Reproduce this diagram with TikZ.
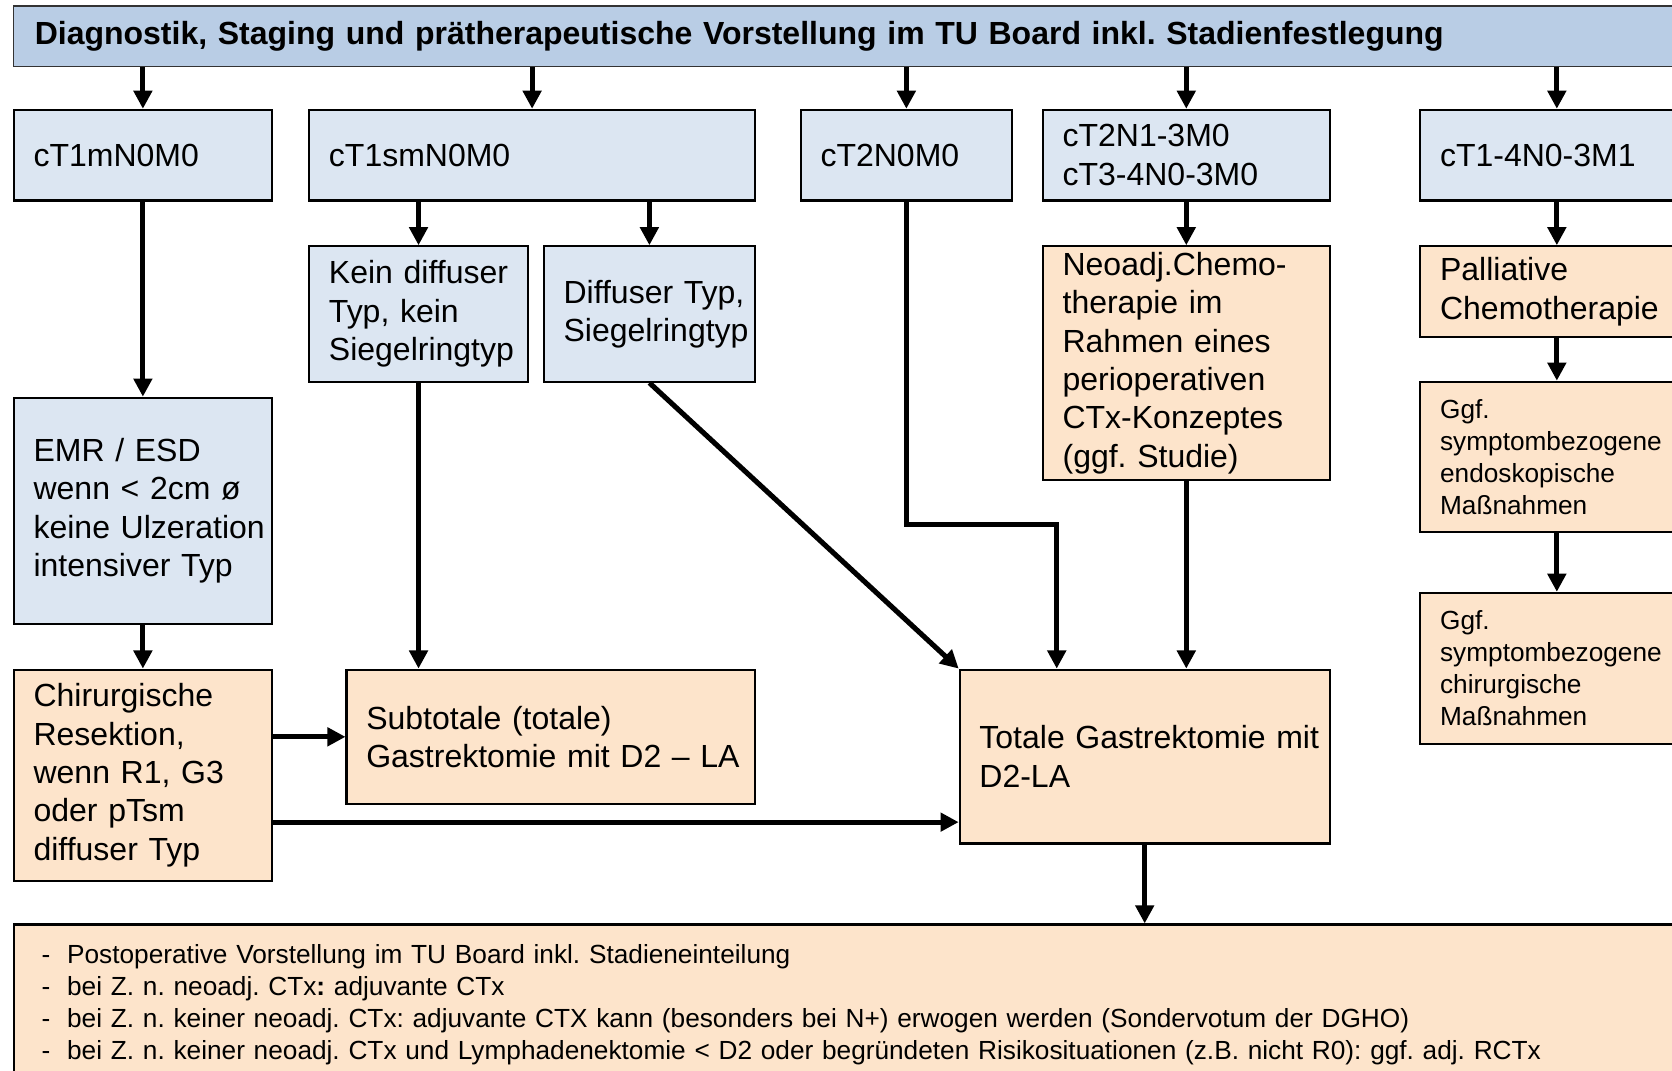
\documentclass[tikz,border=0pt]{standalone}
\usepackage{fontspec}
\setmainfont{Liberation Sans}
\usepackage{xcolor}
\usepackage{tikz}
\usetikzlibrary{arrows.meta, positioning, calc}
\frenchspacing
\definecolor{boxHeader}{RGB}{185,205,229}
\definecolor{boxStage}{RGB}{220,230,242}
\definecolor{boxTherapy}{RGB}{253,228,203}
\definecolor{lineMain}{RGB}{0,0,0}
\tikzset{
  gcNode/.style={
    draw=lineMain,
    line width=1pt,
    anchor=north west,
    align=left,
    inner xsep=0pt,
    inner ysep=0pt,
    font=\fontsize{15}{18}\selectfont,
    execute at begin node={\leftskip=9.25pt\frenchspacing}
  },
  stageNode/.style={gcNode, fill=boxStage},
  therapyNode/.style={gcNode, fill=boxTherapy},
  smallNode/.style={therapyNode, font=\fontsize{12.3}{15}\selectfont},
  headNode/.style={gcNode, fill=boxHeader, draw=lineMain!80, line width=0.6pt,
    font=\bfseries\fontsize{15}{18}\selectfont, execute at begin node={\leftskip=10pt}},
  gcFlow/.style={-{Triangle[length=8.5pt,width=8.5pt]}, line width=2.4pt, draw=lineMain}
}
\begin{document}
\begin{tikzpicture}[x=0.5pt, y=-0.5pt]
  \useasboundingbox (0,0) rectangle (1568,1004);
  \node[headNode, text width=790pt, minimum height=28.5pt] (diag) at (12,5) {Diagnostik, Staging und prätherapeutische Vorstellung im TU Board inkl. Stadienfestlegung};

  \node[stageNode, text width=121pt, minimum height=42.5pt] (cTmuk) at (12,102) {cT1mN0M0};
  \node[stageNode, text width=209pt, minimum height=42.5pt] (cTsub) at (289,102) {cT1smN0M0};
  \node[stageNode, text width=99pt, minimum height=42.5pt] (cTzwei) at (750,102) {cT2N0M0};
  \node[stageNode, text width=134.5pt, minimum height=42.5pt] (cTlok) at (977,102) {cT2N1-3M0\\cT3-4N0-3M0};
  \node[stageNode, text width=128pt, minimum height=42.5pt] (cTmet) at (1331,102) {cT1-4N0-3M1};

  \node[stageNode, text width=102.5pt, minimum height=63.5pt] (keinDiff) at (289,230) {Kein diffuser\\Typ, kein\\Siegelringtyp};
  \node[stageNode, text width=99pt, minimum height=63.5pt] (diffTyp) at (509,230) {Diffuser Typ,\\Siegelringtyp};
  \node[therapyNode, text width=134.5pt, minimum height=109.5pt] (neoadj) at (977,230) {Neoadj.Chemo-\\therapie im\\Rahmen eines\\perioperativen\\CTx-Konzeptes\\(ggf. Studie)};
  \node[therapyNode, text width=128pt, minimum height=42.5pt] (palliativ) at (1331,230) {Palliative\\Chemotherapie};
  \node[smallNode, text width=128pt, minimum height=70.5pt] (endoMass) at (1331,357) {Ggf.\\symptombezogene\\endoskopische\\Maßnahmen};
  \node[smallNode, text width=128pt, minimum height=71pt] (chirMass) at (1331,555) {Ggf.\\symptombezogene\\chirurgische\\Maßnahmen};

  \node[stageNode, text width=121pt, minimum height=106pt] (emr) at (12,372) {EMR / ESD\\wenn < 2cm ø\\keine Ulzeration\\intensiver Typ};
  \node[therapyNode, text width=121pt, minimum height=99pt] (chirRes) at (12,627) {Chirurgische\\Resektion,\\wenn R1, G3\\oder pTsm\\diffuser Typ};
  \node[therapyNode, text width=191.5pt, minimum height=63pt] (subtot) at (324,627) {Subtotale (totale)\\Gastrektomie mit D2 -- LA};
  \node[therapyNode, text width=173.5pt, minimum height=81.5pt] (totGast) at (899,627) {Totale Gastrektomie mit\\D2-LA};

  \node[smallNode, text width=784pt, inner ysep=9.5pt, execute at begin node={\leftskip=13pt}] (nachsorge) at (12,866) {%
    \makebox[12pt][l]{-}Postoperative Vorstellung im TU Board inkl. Stadieneinteilung\\
    \makebox[12pt][l]{-}bei Z. n. neoadj. CTx\textbf{:} adjuvante CTx\\
    \makebox[12pt][l]{-}bei Z. n. keiner neoadj. CTx: adjuvante CTX kann (besonders bei N+) erwogen werden (Sondervotum der DGHO)\\
    \makebox[12pt][l]{-}bei Z. n. keiner neoadj. CTx und Lymphadenektomie < D2 oder begründeten Risikosituationen (z.B. nicht R0): ggf. adj. RCTx};

  \draw[gcFlow] (cTmuk.north |- diag.south) -- (cTmuk.north);
  \draw[gcFlow] (cTsub.north |- diag.south) -- (cTsub.north);
  \draw[gcFlow] (cTzwei.north |- diag.south) -- (cTzwei.north);
  \draw[gcFlow] (cTlok.north |- diag.south) -- (cTlok.north);
  \draw[gcFlow] (cTmet.north |- diag.south) -- (cTmet.north);

  \draw[gcFlow] (cTmuk) -- (emr);
  \draw[gcFlow] (emr) -- (chirRes);
  \draw[gcFlow] (cTsub.south -| keinDiff.north) -- (keinDiff.north);
  \draw[gcFlow] (cTsub.south -| diffTyp.north) -- (diffTyp.north);
  \draw[gcFlow] (cTlok) -- (neoadj);
  \draw[gcFlow] (cTmet) -- (palliativ);
  \draw[gcFlow] (palliativ) -- (endoMass);
  \draw[gcFlow] (endoMass) -- (chirMass);

  \draw[gcFlow] (keinDiff) -- (keinDiff |- subtot.north);
  \draw[gcFlow] (diffTyp.south) -- (totGast.north west);
  \coordinate (zweiKnick) at (991,492);
  \draw[gcFlow] (cTzwei.south) |- (zweiKnick) -- (zweiKnick |- totGast.north);
  \draw[gcFlow] (neoadj) -- (neoadj |- totGast.north);
  \draw[gcFlow] (chirRes.east |- subtot.west) -- (subtot.west);
  \draw[gcFlow] ([yshift=-22pt]chirRes.east) -- ([yshift=-22pt]chirRes.east -| totGast.west);
  \draw[gcFlow] (totGast) -- (totGast |- nachsorge.north);
\end{tikzpicture}
\end{document}
